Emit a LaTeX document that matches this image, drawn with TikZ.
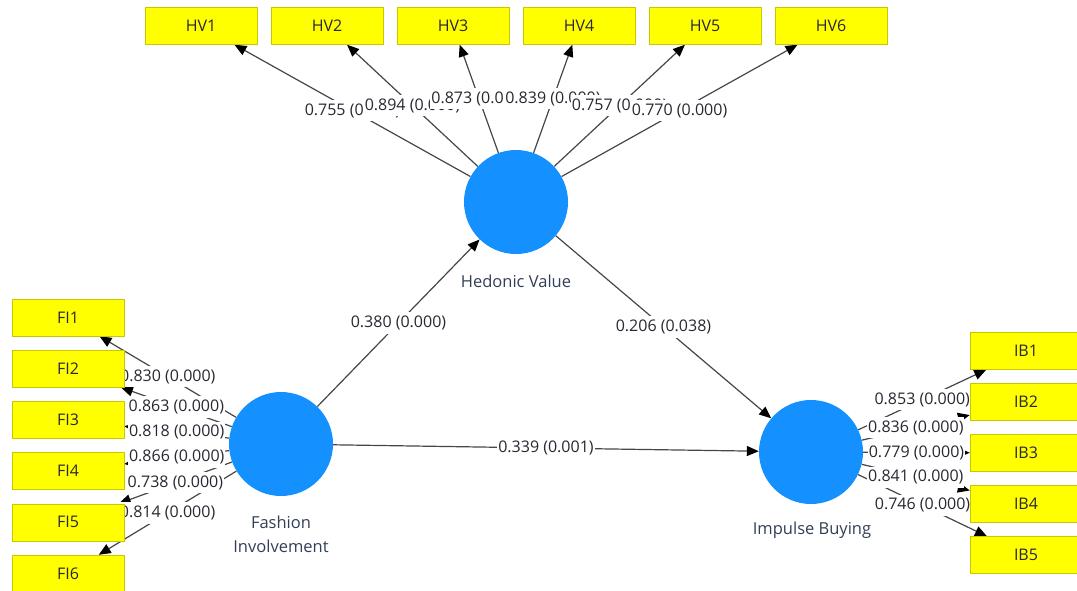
\documentclass[tikz,border=0pt]{standalone}
\usepackage{fontspec}
\setmainfont{Open Sans}
\usepackage{tikz}
\usetikzlibrary{arrows.meta}
\usetikzlibrary{backgrounds}
\pgfdeclarelayer{lblayer}
\pgfsetlayers{background,lblayer,main}
\definecolor{lvblue}{RGB}{20,145,255}
\definecolor{mvyellow}{RGB}{255,255,0}
\definecolor{mvborder}{RGB}{200,200,0}
\definecolor{pathgray}{RGB}{70,70,70}
\definecolor{txtgray}{RGB}{40,40,50}
\definecolor{latgray}{RGB}{50,62,85}
\tikzset{
  latent/.style = {circle, fill=lvblue, minimum size=104pt, inner sep=0pt},
  ind_box/.style = {rectangle, draw=mvborder, fill=mvyellow, minimum width=112pt, minimum height=37pt, font=\fontsize{16}{19}\selectfont, text=txtgray},
  lat_lbl/.style = {align=center, font=\fontsize{16.5}{24}\selectfont, text=latgray},
  path_lbl/.style = {fill=white, inner xsep=1pt, inner ysep=3.5pt, font=\fontsize{16}{19}\selectfont, text=txtgray},
  link/.style = {draw=pathgray, line width=1.2pt, -{Triangle[length=12pt,width=10pt,color=black]}}
}

\begin{document}
\begin{tikzpicture}[x=1pt, y=-1pt]
    \useasboundingbox (0,0) rectangle (1077,590);
    % latent variables
    \node[latent] (hv) at (516,202) {};
    \node[latent] (fi) at (281,444) {};
    \node[latent] (ib) at (811,452) {};
    \node[lat_lbl] (hv_lbl) at (516,281) {Hedonic Value};
    \node[lat_lbl] (fi_lbl) at (281,534) {Fashion\\Involvement};
    \node[lat_lbl] (ib_lbl) at (812,530) {Impulse Buying};
    % indicators
    \node[ind_box] (hv1) at (201,26) {HV1};
    \node[ind_box] (hv2) at (327,26) {HV2};
    \node[ind_box] (hv3) at (453,26) {HV3};
    \node[ind_box] (hv4) at (579,26) {HV4};
    \node[ind_box] (hv5) at (705,26) {HV5};
    \node[ind_box] (hv6) at (831,26) {HV6};
    \node[ind_box] (fi1) at (68,317.5) {FI1};
    \node[ind_box] (fi2) at (68,368.7) {FI2};
    \node[ind_box] (fi3) at (68,419.9) {FI3};
    \node[ind_box] (fi4) at (68,471.1) {FI4};
    \node[ind_box] (fi5) at (68,522.3) {FI5};
    \node[ind_box] (fi6) at (68,573.5) {FI6};
    \node[ind_box] (ib1) at (1026,351) {IB1};
    \node[ind_box] (ib2) at (1026,402) {IB2};
    \node[ind_box] (ib3) at (1026,453) {IB3};
    \node[ind_box] (ib4) at (1026,504) {IB4};
    \node[ind_box] (ib5) at (1026,555) {IB5};
    % paths
    \begin{pgfonlayer}{background}
    \draw[link] (hv) -- (hv1) coordinate[midway] (m_hv1);
    \draw[link] (hv) -- (hv2) coordinate[midway] (m_hv2);
    \draw[link] (hv) -- (hv3) coordinate[midway] (m_hv3);
    \draw[link] (hv) -- (hv4) coordinate[midway] (m_hv4);
    \draw[link] (hv) -- (hv5) coordinate[midway] (m_hv5);
    \draw[link] (hv) -- (hv6) coordinate[midway] (m_hv6);
    \draw[link] (fi) -- (fi1) coordinate[midway] (m_fi1);
    \draw[link] (fi) -- (fi2) coordinate[midway] (m_fi2);
    \draw[link] (fi) -- (fi3) coordinate[midway] (m_fi3);
    \draw[link] (fi) -- (fi4) coordinate[midway] (m_fi4);
    \draw[link] (fi) -- (fi5) coordinate[midway] (m_fi5);
    \draw[link] (fi) -- (fi6) coordinate[midway] (m_fi6);
    \draw[link] (ib) -- (ib1) coordinate[midway] (m_ib1);
    \draw[link] (ib) -- (ib2) coordinate[midway] (m_ib2);
    \draw[link] (ib) -- (ib3) coordinate[midway] (m_ib3);
    \draw[link] (ib) -- (ib4) coordinate[midway] (m_ib4);
    \draw[link] (ib) -- (ib5) coordinate[midway] (m_ib5);
    \draw[link] (fi) -- (hv) coordinate[midway] (m_fihv);
    \draw[link] (hv) -- (ib) coordinate[midway] (m_hvib);
    \draw[link] (fi) -- (ib) coordinate[midway] (m_fiib);
    \end{pgfonlayer}
    % loadings and path coefficients
    \begin{pgfonlayer}{lblayer}
    \node[path_lbl] (l_hv1) at (m_hv1) {0.755 (0.000)};
    \node[path_lbl] (l_hv2) at (m_hv2) {0.894 (0.000)};
    \node[path_lbl] (l_hv3) at (m_hv3) {0.873 (0.000)};
    \node[path_lbl] (l_hv4) at (m_hv4) {0.839 (0.000)};
    \node[path_lbl] (l_hv5) at (m_hv5) {0.757 (0.000)};
    \node[path_lbl] (l_hv6) at (m_hv6) {0.770 (0.000)};
    \node[path_lbl] (l_fi1) at (m_fi1) {0.830 (0.000)};
    \node[path_lbl] (l_fi2) at (m_fi2) {0.863 (0.000)};
    \node[path_lbl] (l_fi3) at (m_fi3) {0.818 (0.000)};
    \node[path_lbl] (l_fi4) at (m_fi4) {0.866 (0.000)};
    \node[path_lbl] (l_fi5) at (m_fi5) {0.738 (0.000)};
    \node[path_lbl] (l_fi6) at (m_fi6) {0.814 (0.000)};
    \node[path_lbl] (l_ib1) at (m_ib1) {0.853 (0.000)};
    \node[path_lbl] (l_ib2) at (m_ib2) {0.836 (0.000)};
    \node[path_lbl] (l_ib3) at (m_ib3) {0.779 (0.000)};
    \node[path_lbl] (l_ib4) at (m_ib4) {0.841 (0.000)};
    \node[path_lbl] (l_ib5) at (m_ib5) {0.746 (0.000)};
    \node[path_lbl] (l_fihv) at (m_fihv) {0.380 (0.000)};
    \node[path_lbl] (l_hvib) at (m_hvib) {0.206 (0.038)};
    \node[path_lbl] (l_fiib) at (m_fiib) {0.339 (0.001)};
    \end{pgfonlayer}
\end{tikzpicture}
\end{document}
